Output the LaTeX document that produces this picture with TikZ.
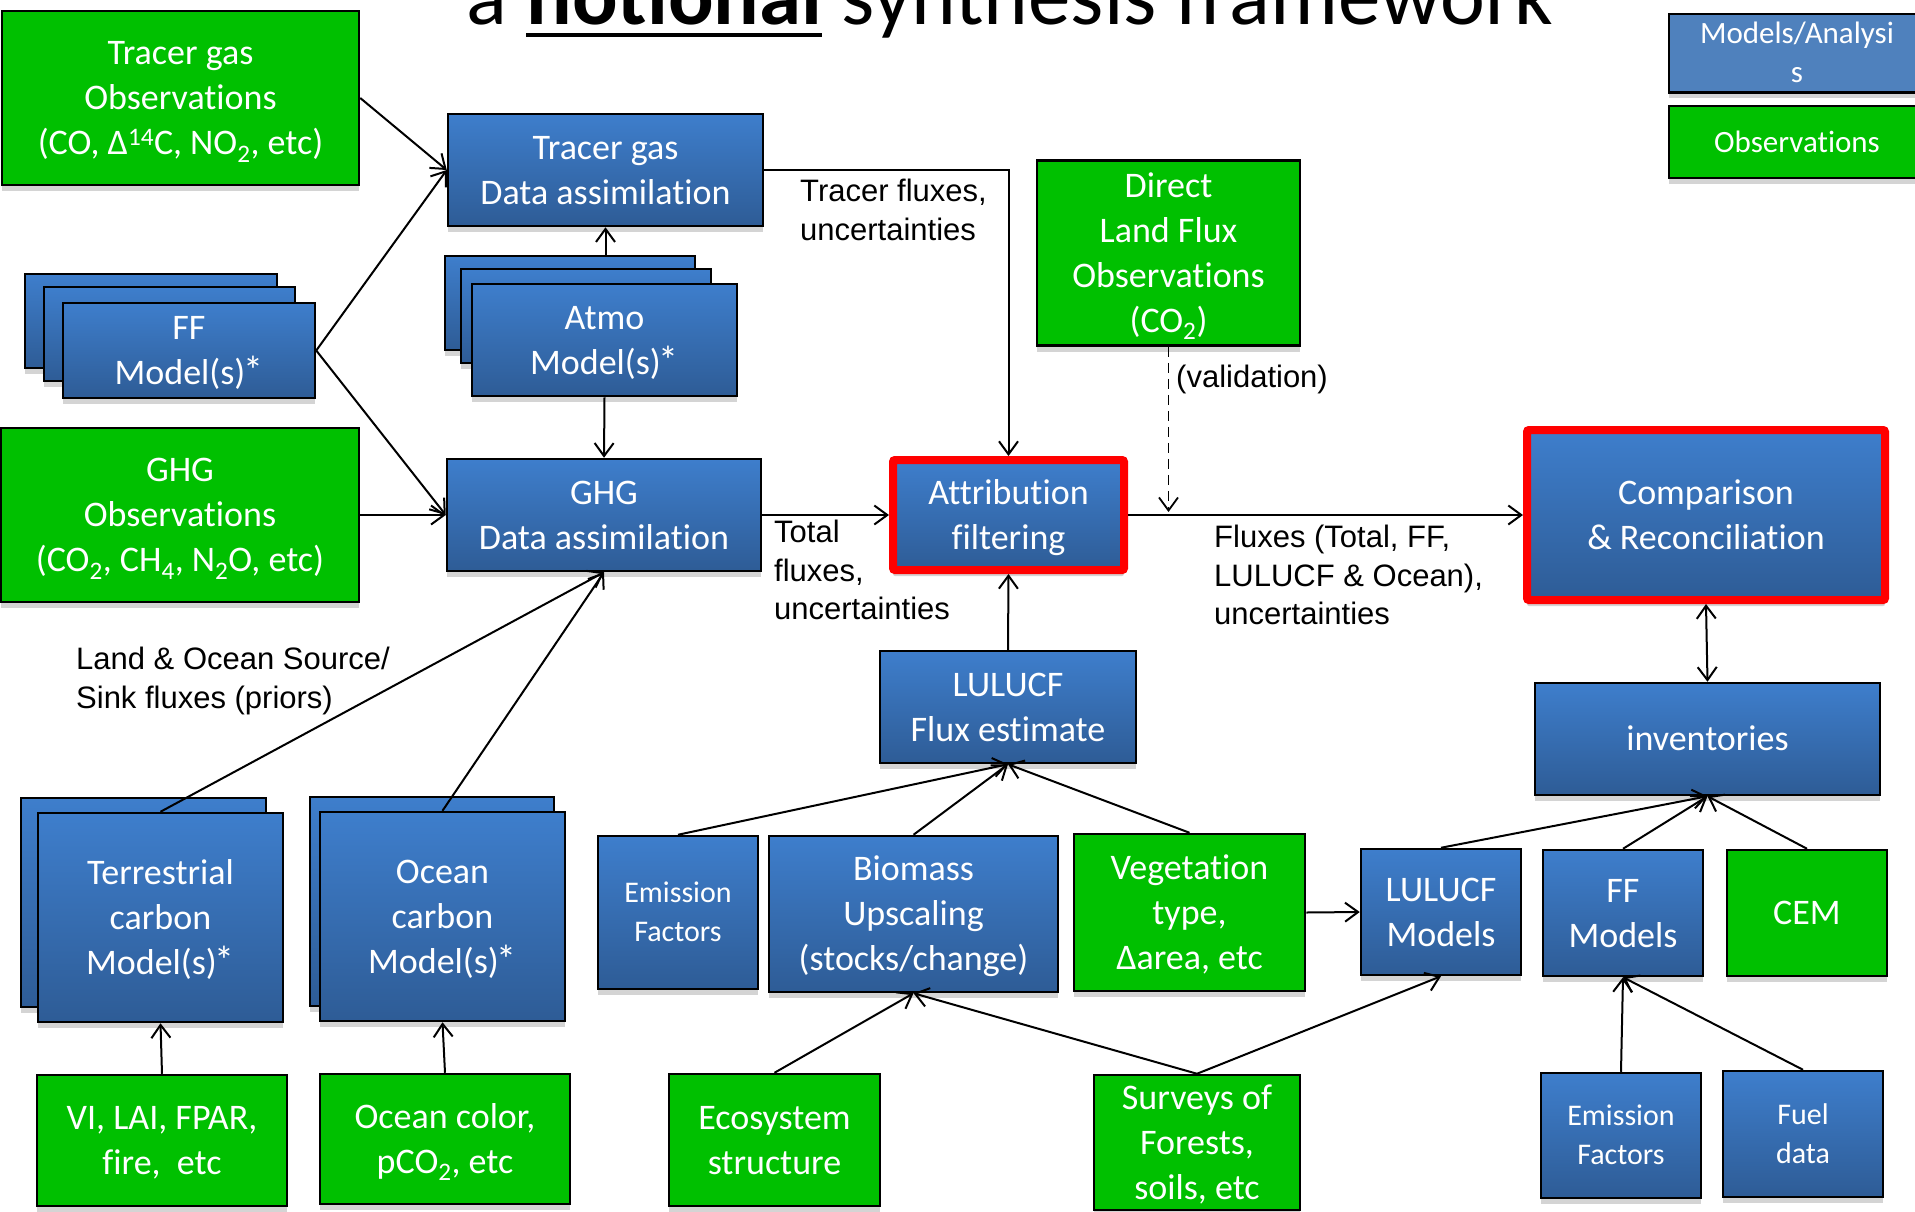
\documentclass[tikz,border=0pt]{standalone}
\usepackage{fontspec}
\setmainfont{Carlito}[Ligatures=NoCommon]
\newfontfamily\labelfamily{Liberation Sans}
\usetikzlibrary{arrows.meta,shadows,calc}
\definecolor{bluetop}{RGB}{62,126,204}
\definecolor{bluebot}{RGB}{46,92,150}
\definecolor{obsgreen}{RGB}{0,192,0}
\definecolor{legendblue}{RGB}{79,129,189}
\definecolor{shadowgray}{RGB}{212,212,212}
\newcommand\boxfnt{\fontsize{36}{45}\selectfont}
\newcommand\smallboxfnt{\fontsize{30}{39}\selectfont}
\newcommand\legfnt{\fontsize{31}{38}\selectfont}
\newcommand\labfnt{\labelfamily\fontsize{31}{38.5}\selectfont}
% fixed line extent, put on the first and last line of each box text
\newcommand\bxs{\rule[-0.3em]{0pt}{1.25em}}
% tighter, slightly larger asterisk after "Model(s)"
\newcommand\mstar{\kern-2pt{\fontsize{40}{45}\selectfont *}}
\newcommand\ulbold[1]{\setbox0\hbox{\bfseries #1}\rlap{\rule[-13pt]{\wd0}{4pt}}\box0\relax}

\begin{document}
\begin{tikzpicture}[x=1pt,y=-1pt,
  box/.style={rectangle, draw=black, line width=2.5pt, text=white, align=center,
    inner sep=0pt, font=\boxfnt,
    drop shadow={shadow xshift=0pt, shadow yshift=-6pt, fill=shadowgray, opacity=1}},
  modelbox/.style={box, top color=bluetop, bottom color=bluebot},
  obsbox/.style={box, fill=obsgreen},
  keyframe/.style={draw=red, line width=8pt, rounded corners=2pt},
  sz/.style 2 args={minimum width=#1pt, minimum height=#2pt},
  conn/.style={line width=2pt, -{Straight Barb[length=13pt,width=19pt]}},
  lab/.style={anchor=west, align=left, inner sep=0pt, font=\labfnt}
]
\useasboundingbox (0,0) rectangle (1915,1211);
\clip (0,0) rectangle (1915,1211);
\fill[white] (0,0) rectangle (1915,1211);

% title
\node[anchor=base, inner sep=0pt, font=\fontsize{85}{100}\selectfont] (title) at (1010,24)
  {a \ulbold{notional} synthesis framework};

% legend
\node[box, fill=legendblue, sz={256}{72}, font=\legfnt] (legmod) at (1797,53) {\bxs Models/Analysi\\s\bxs};
\node[obsbox, sz={256}{72}, font=\legfnt] (legobs) at (1797,142) {\bxs Observations\bxs};

% atmospheric branch
\node[obsbox, sz={357}{174}] (tgobs) at (180.5,98)
  {\bxs Tracer gas\\Observations\\(CO, Δ\textsuperscript{14}C, NO\textsubscript{2}, etc)\bxs};
\node[modelbox, sz={315}{112}] (tgda) at (605.5,170) {\bxs Tracer gas\\Data assimilation\bxs};

\node[modelbox, sz={250}{94}] (atmob1) at (570,303) {};
\node[modelbox, sz={250}{94}] (atmob2) at (586,316) {};
\node[modelbox, sz={265}{112}] (atmo) at (604.5,340) {\bxs Atmo\\Model(s)\mstar\bxs};

\node[modelbox, sz={252}{94}] (ffb1) at (151,321) {};
\node[modelbox, sz={251}{94}] (ffb2) at (169.5,334) {};
\node[modelbox, sz={252}{95}] (ff) at (189,350.5) {\bxs FF\\Model(s)\mstar\bxs};

\node[obsbox, sz={358}{174}] (ghgobs) at (180,515)
  {\bxs GHG\\Observations\\(CO\textsubscript{2}, CH\textsubscript{4}, N\textsubscript{2}O, etc)\bxs};
\node[modelbox, sz={314}{112}] (ghgda) at (604,515) {\bxs GHG\\Data assimilation\bxs};

\node[modelbox, keyframe, sz={231}{110}] (attr) at (1008.5,515) {\bxs Attribution\\filtering\bxs};
\node[modelbox, keyframe, sz={358}{170}] (comp) at (1706,515) {\bxs Comparison\\\& Reconciliation\bxs};

\node[obsbox, sz={263}{185}] (dlf) at (1168.5,253)
  {\bxs Direct\\Land Flux\\Observations\\(CO\textsubscript{2})\bxs};

\node[modelbox, sz={256}{112}] (lfe) at (1008,707) {\bxs LULUCF\\Flux estimate\bxs};
\node[modelbox, sz={345}{112}] (inv) at (1707.5,739) {\bxs inventories\bxs};

% land and ocean models
\node[modelbox, sz={245}{209}] (terrb) at (143.5,902.5) {};
\node[modelbox, sz={245}{209}] (terr) at (160.5,917.5) {\bxs Terrestrial\\carbon\\Model(s)\mstar\bxs};
\node[modelbox, sz={244}{209}] (oceanb) at (432,901.5) {};
\node[modelbox, sz={245}{209}] (ocean) at (442.5,916.5) {\bxs Ocean\\carbon\\Model(s)\mstar\bxs};

\node[obsbox, sz={250}{131}] (vi) at (162,1140.5) {\bxs VI, LAI, FPAR,\\fire,\ \ etc\bxs};
\node[obsbox, sz={250}{130}] (oc) at (445,1139) {\bxs Ocean color,\\pCO\textsubscript{2}, etc\bxs};

% LULUCF inputs
\node[modelbox, sz={160}{153}, font=\smallboxfnt] (ef1) at (678,912.5) {\bxs Emission\\Factors\bxs};
\node[modelbox, sz={289}{156}] (bio) at (913.5,914) {\bxs Biomass\\Upscaling\\(stocks/change)\bxs};
\node[obsbox, sz={231}{157}] (veg) at (1189.5,912.5) {\bxs Vegetation\\type,\\Δarea, etc\bxs};
\node[obsbox, sz={211}{132}] (eco) at (774.5,1140) {\bxs Ecosystem\\structure\bxs};
\node[obsbox, sz={206}{131}] (surv) at (1197,1142.5) {\bxs Surveys of\\Forests,\\soils, etc\bxs};

% inventory inputs
\node[modelbox, sz={160}{126}] (lm) at (1441,912) {\bxs LULUCF\\Models\bxs};
\node[modelbox, sz={160}{126}] (ffm) at (1623,913) {\bxs FF\\Models\bxs};
\node[obsbox, sz={160}{126}] (cem) at (1807,913) {\bxs CEM\bxs};
\node[modelbox, sz={160}{125}, font=\smallboxfnt] (ef2) at (1621,1135.5) {\bxs Emission\\Factors\bxs};
\node[modelbox, sz={160}{126}, font=\smallboxfnt] (fuel) at (1803,1134) {\bxs Fuel\\data\bxs};

% connectors
\draw[conn] (tgobs.east) -- (tgda.west);
\draw[conn] (ff.east) -- (tgda.west);
\draw[conn] (ff.east) -- (ghgda.west);
\draw[conn] (ghgobs.east) -- (ghgda.west);
\draw[conn] (atmo.south) -- (ghgda.north);
\draw[conn] (atmob1.north -| tgda.south) -- (tgda.south);
\draw[conn] (tgda.east) -- (attr.north |- tgda.east) -- (attr.north);
\draw[conn] (ghgda.east) -- (attr.west);
\draw[conn] (attr.east) -- (comp.west);
\draw[line width=1.8pt, dash pattern=on 10pt off 6pt, -{Straight Barb[length=13pt,width=19pt]}, shorten >=3pt]
  (dlf.south) -- (dlf.south |- attr.east);
\draw[conn] (lfe.north) -- (attr.south);
\draw[line width=2pt, {Straight Barb[length=13pt,width=19pt]}-{Straight Barb[length=13pt,width=19pt]}]
  (comp.south) -- (inv.north);
\draw[conn] (terr.north) -- (ghgda.south);
\draw[conn] (ocean.north) -- (ghgda.south);
\draw[conn] (vi.north) -- (terr.south);
\draw[conn] (oc.north) -- (ocean.south);
\draw[conn] (ef1.north) -- (lfe.south);
\draw[conn] (bio.north) -- (lfe.south);
\draw[conn] (veg.north) -- (lfe.south);
\draw[conn] (eco.north) -- (bio.south);
\draw[conn] (surv.north) -- (bio.south);
\draw[conn] (surv.north) -- (lm.south);
\draw[conn] (veg.east) -- (lm.west);
\draw[conn] (lm.north) -- (inv.south);
\draw[conn] (ffm.north) -- (inv.south);
\draw[conn] (cem.north) -- (inv.south);
\draw[conn] (ef2.north) -- (ffm.south);
\draw[conn] (fuel.north) -- (ffm.south);

% connector labels
\node[lab] (ltracer) at (800,210) {Tracer fluxes,\\uncertainties};
\node[lab] (lvalid) at (1176,379) {(validation)};
\node[lab] (ltotal) at (774,570) {Total\\fluxes,\\uncertainties};
\node[lab] (lfluxes) at (1214,575) {Fluxes (Total, FF,\\LULUCF \& Ocean),\\uncertainties};
\node[lab] (lprior) at (76,681) {Land \& Ocean Source/\\Sink fluxes (priors)};
\end{tikzpicture}
\end{document}
